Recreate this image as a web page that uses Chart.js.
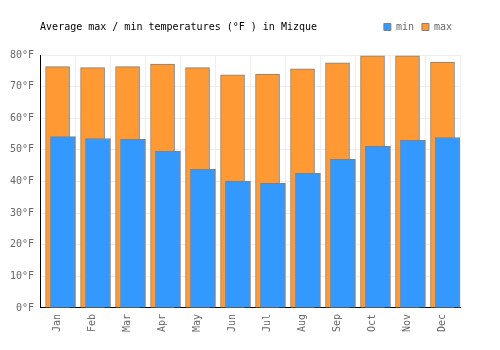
<!DOCTYPE html>
<html>
<head>
<meta charset="utf-8">
<script src="https://cdn.jsdelivr.net/npm/chart.js@4"></script>
<style>
  body { margin: 0; background: #fff; }
  #wrap { width: 500px; height: 350px; }
</style>
</head>
<body>
<div id="wrap"><canvas id="tempChart"></canvas></div>
<script>
const months = ['Jan', 'Feb', 'Mar', 'Apr', 'May', 'Jun', 'Jul', 'Aug', 'Sep', 'Oct', 'Nov', 'Dec'];
const minTemps = [54.2, 53.6, 53.3, 49.6, 43.8, 40.1, 39.4, 42.6, 47.0, 51.1, 53.0, 53.9];
const maxTemps = [76.3, 76.0, 76.3, 77.1, 76.0, 73.7, 74.0, 75.6, 77.5, 79.7, 79.7, 77.8];
const yTicks = [0, 10, 20, 30, 40, 50, 60, 70, 80];
const chartTitle = 'Average max / min temperatures (°F ) in Mizque';

const FONT = '"DejaVu Sans Mono", monospace';
// min bars sit a bit to the right of the max bars, in category units
const minBarShift = 0.155;

// title is drawn on the same row as the legend
const titlePlugin = {
  id: 'inlineTitle',
  beforeInit(chart) {
    // extra gap under the legend
    const origFit = chart.legend.fit;
    chart.legend.fit = function () {
      origFit.bind(chart.legend)();
      this.height += 13;
    };
  },
  afterDraw(chart) {
    const ctx = chart.ctx;
    ctx.save();
    ctx.font = '10px ' + FONT;
    ctx.fillStyle = '#000';
    ctx.textBaseline = 'middle';
    ctx.textAlign = 'left';
    ctx.fillText(chartTitle, chart.chartArea.left, 27);
    ctx.restore();
  }
};

const tempData = {
  labels: months,
  datasets: [
    {
      label: 'min',
      data: minTemps.map((v, i) => ({x: i + minBarShift, y: v})),
      xAxisID: 'xPos',
      order: 0,
      grouped: false,
      barThickness: 25,
      backgroundColor: '#3399ff',
      borderColor: '#808080',
      borderWidth: 1
    },
    {
      label: 'max',
      data: maxTemps.map((v, i) => ({x: i, y: v})),
      xAxisID: 'xPos',
      order: 1,
      grouped: false,
      barThickness: 24,
      backgroundColor: '#ff9933',
      borderColor: '#808080',
      borderWidth: 1
    }
  ]
};

const tempConfig = {
  type: 'bar',
  data: tempData,
  options: {
    responsive: true,
    maintainAspectRatio: false,
    animation: false,
    layout: {
      padding: {top: 14, left: 4, right: 40, bottom: 12}
    },
    scales: {
      x: {
        type: 'category',
        offset: true,
        grid: {color: '#eeeeee', offset: true, drawTicks: false},
        border: {color: '#000', width: 1},
        ticks: {
          color: '#666',
          font: {family: FONT, size: 10},
          minRotation: 90,
          maxRotation: 90,
          padding: 6
        }
      },
      xPos: {
        type: 'linear',
        display: false,
        offset: false,
        min: -0.5,
        max: months.length - 0.5
      },
      y: {
        min: yTicks[0],
        max: yTicks[yTicks.length - 1],
        afterBuildTicks: (axis) => { axis.ticks = yTicks.map(v => ({value: v})); },
        grid: {color: '#eeeeee', drawTicks: false},
        border: {color: '#000', width: 1},
        ticks: {
          color: '#666',
          font: {family: FONT, size: 10},
          padding: 6,
          callback: (v) => v + '°F'
        }
      }
    },
    plugins: {
      legend: {
        position: 'top',
        align: 'end',
        labels: {
          boxWidth: 7,
          boxHeight: 7,
          padding: 8,
          color: '#666',
          font: {family: FONT, size: 10}
        }
      },
      title: {display: false},
      tooltip: {enabled: false}
    }
  },
  plugins: [titlePlugin]
};

const tempChart = new Chart(document.getElementById('tempChart'), tempConfig);
</script>
</body>
</html>
